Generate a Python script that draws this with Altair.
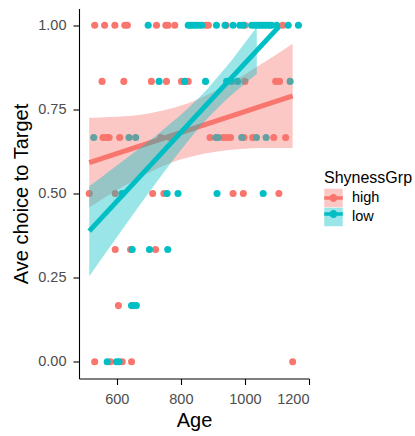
import altair as alt
import pandas as pd

GROUPS = ["high", "low"]
COLORS = ["#F8766D", "#00BFC4"]

# Scatter points: ages per response level, per group
HIGH_LEVELS = [1.0, 0.8333, 0.6667, 0.5, 0.3333, 0.1667, 0.0]
HIGH_AGES = [
    [531, 562, 594, 625, 633, 724, 753, 760, 781, 878, 886, 941, 1000, 1118],
    [554, 622, 708, 755, 802, 823, 1000, 1096, 1108],
    [557, 568, 576, 609, 737, 766, 891, 932, 943, 955, 997, 1024, 1090, 1127],
    [514, 595, 712, 747, 963, 995, 1106],
    [595, 643, 721],
    [605],
    [531, 580, 617, 646, 1149],
]
LOW_LEVELS = [1.0, 0.8333, 0.6667, 0.5, 0.3333, 0.1667, 0.0]
LOW_AGES = [
    [698, 823, 830, 838, 846, 856, 865, 911, 938, 963, 984, 995, 1021, 1030,
     1037, 1045, 1052, 1060, 1068, 1076, 1083, 1099, 1135, 1167],
    [732, 812, 877, 943, 958, 977, 1141],
    [528, 638, 659, 909, 917, 990, 1036, 1066],
    [617, 757, 791, 913, 1057],
    [648, 702, 759],
    [646, 653, 661],
    [570, 599, 607],
]

# Fitted lines (end points)
HIGH_FIT_AGE = [514, 1149]
HIGH_FIT = [0.592, 0.790]
LOW_FIT_AGE = [514, 1107]
LOW_FIT = [0.388, 0.997]

# Confidence bands (edges)
HIGH_BAND_AGE = [514, 550, 600, 650, 700, 750, 796, 850, 900, 950, 1000, 1050, 1100, 1149]
HIGH_BAND_LO = [0.459, 0.481, 0.510, 0.537, 0.562, 0.584, 0.600, 0.614, 0.623, 0.629, 0.633, 0.635, 0.635, 0.635]
HIGH_BAND_HI = [0.725, 0.726, 0.728, 0.731, 0.738, 0.748, 0.760, 0.779, 0.801, 0.827, 0.854, 0.884, 0.914, 0.945]
LOW_BAND_AGE = [514, 550, 600, 650, 700, 750, 800, 850, 880, 920, 960, 1000, 1037]
LOW_BAND_LO = [0.254, 0.303, 0.370, 0.437, 0.503, 0.567, 0.629, 0.688, 0.720, 0.759, 0.794, 0.826, 0.855]
LOW_BAND_HI = [0.522, 0.547, 0.583, 0.619, 0.655, 0.694, 0.734, 0.779, 0.808, 0.852, 0.898, 0.948, 0.995]

X_TICKS = [600, 800, 1000, 1200]
Y_TICKS = [0, 0.25, 0.5, 0.75, 1.0]

rows = []
for grp, levels, ages in [("high", HIGH_LEVELS, HIGH_AGES), ("low", LOW_LEVELS, LOW_AGES)]:
    for lev, alist in zip(levels, ages):
        for a in alist:
            rows.append({"age": a, "val": lev, "grp": grp})
points = pd.DataFrame(rows)

band_high = pd.DataFrame({"age": HIGH_BAND_AGE, "lo": HIGH_BAND_LO, "hi": HIGH_BAND_HI, "grp": "high"})
band_low = pd.DataFrame({"age": LOW_BAND_AGE, "lo": LOW_BAND_LO, "hi": LOW_BAND_HI, "grp": "low"})
fit_high = pd.DataFrame({"age": HIGH_FIT_AGE, "val": HIGH_FIT})
fit_low = pd.DataFrame({"age": LOW_FIT_AGE, "val": LOW_FIT})

FONT = "Liberation Sans"
axis_common = dict(grid=False, domainColor="black", domainWidth=1.1, tickColor="black",
                   tickWidth=1.1, tickSize=6, labelColor="#4D4D4D", labelFontSize=14.5,
                   titleFontSize=20, titleColor="black", titleFontWeight="normal",
                   labelFont=FONT, titleFont=FONT)

xs = alt.Scale(domain=[482, 1200], nice=False, zero=False)
ys = alt.Scale(domain=[-0.05, 1.05], nice=False, zero=False)
x_enc = alt.X("age:Q", scale=xs, axis=alt.Axis(values=X_TICKS, format="d", title="Age",
                                               labelPadding=8, titlePadding=4, **axis_common))


def y_enc(field):
    return alt.Y(field, type="quantitative", scale=ys,
                 axis=alt.Axis(values=Y_TICKS, format=".2f", title="Ave choice to Target",
                               labelPadding=7, titlePadding=6, **axis_common))


LEG_X = 245
LEG_Y = 161
leg_common = dict(orient="none", legendX=LEG_X, legendY=LEG_Y, symbolSize=342, rowPadding=0,
                  padding=0, titlePadding=3, labelOffset=9, titleFontSize=16, labelFontSize=14.5,
                  titleFont=FONT, labelFont=FONT, titleFontWeight="normal", titleColor="black",
                  labelColor="black", symbolStrokeWidth=0, title="ShynessGrp")

KEY_PATH = ("M-1,-0.19 L1,-0.19 L1,0.19 L-1,0.19 Z "
            "M-0.43,0 A0.43,0.43 0 1 1 0.43,0 A0.43,0.43 0 1 1 -0.43,0 Z")

# the colour scale takes its domain from the data (sorted: high, low); the fill scale has an
# explicit domain, so the two legends stay separate and can be stacked into one key
color_scale = alt.Scale(range=COLORS)
fill_scale = alt.Scale(domain=GROUPS, range=COLORS)

pts = alt.Chart(points).mark_circle(size=50, opacity=1).encode(
    x=x_enc, y=y_enc("val"),
    color=alt.Color("grp:N", scale=color_scale,
                    legend=alt.Legend(symbolType=KEY_PATH, titleOpacity=0, labelOpacity=0,
                                      labelExpr="''", **leg_common)),
)

fill_legend = alt.Legend(symbolType="square", **leg_common)

area_h = alt.Chart(band_high).mark_area(opacity=0.4, interpolate="monotone").encode(
    x=x_enc, y=y_enc("lo"), y2="hi:Q",
    fill=alt.Fill("grp:N", scale=fill_scale, legend=fill_legend),
)
area_l = alt.Chart(band_low).mark_area(opacity=0.4, interpolate="monotone").encode(
    x=x_enc, y=y_enc("lo"), y2="hi:Q",
    fill=alt.Fill("grp:N", scale=fill_scale, legend=fill_legend),
)
line_h = alt.Chart(fit_high).mark_line(color=COLORS[0], strokeWidth=5).encode(
    x=x_enc, y=y_enc("val"))
line_l = alt.Chart(fit_low).mark_line(color=COLORS[1], strokeWidth=5).encode(
    x=x_enc, y=y_enc("val"))

chart = alt.layer(pts, area_h, line_h, area_l, line_l).properties(
    width=230, height=370,
    autosize=alt.AutoSizeParams(type="none"),
    padding={"left": 79, "top": 8.5, "right": 106, "bottom": 57.5},
    background="white",
).configure(font=FONT).configure_view(stroke="transparent", strokeWidth=0)

chart.save("out.html", embed_options={"renderer": "svg", "actions": False})
